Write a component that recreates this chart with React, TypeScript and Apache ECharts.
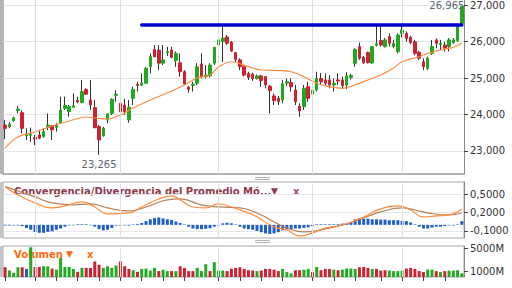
import React, { useEffect, useRef } from "react";
import * as echarts from "echarts";

// [open, close, low, high]
const candles: number[][] = [
  [23712, 23620, 23320, 23850], [23660, 23730, 23620, 23800], [23830, 23910, 23800, 23940], [24110, 24150, 24030, 24240],
  [24050, 23620, 23480, 24120], [23420, 23470, 23300, 23620], [23430, 23460, 23250, 23640], [23370, 23320, 23160, 23440],
  [23440, 23350, 23320, 23580], [23390, 23530, 23370, 23620], [23650, 23710, 23575, 24030], [23690, 23580, 23300, 23710],
  [23650, 23710, 23530, 23760], [23775, 24125, 23760, 24490], [24170, 24250, 24125, 24490], [24080, 24215, 23940, 24260],
  [24200, 24240, 24200, 24580], [24390, 24350, 24310, 24490], [24325, 24630, 24310, 24950], [24690, 24560, 24540, 24720],
  [24400, 24260, 24125, 24950], [24190, 23640, 23620, 24400], [23670, 23300, 22890, 23710], [23410, 23620, 23390, 23665],
  [23850, 24015, 23760, 24030], [24030, 24420, 23985, 24445], [24530, 24560, 24350, 24670], [24310, 24080, 23940, 24400],
  [24260, 24080, 23990, 24430], [23850, 24200, 23775, 24400], [24445, 24690, 24260, 24765], [24830, 24800, 24630, 24900],
  [24800, 24860, 24790, 25130], [24860, 25270, 24840, 25310], [25315, 25590, 25130, 25680], [25790, 25590, 25570, 25910],
  [25770, 25410, 25220, 25910], [25410, 25500, 25360, 25910], [25700, 25730, 25610, 25860], [25770, 25570, 25540, 25860],
  [25480, 25680, 25310, 25730], [25420, 25175, 25040, 25680], [25175, 24840, 24810, 25220], [24750, 24690, 24600, 24780],
  [24800, 24830, 24630, 24900], [24860, 25310, 24810, 25410], [25390, 25040, 24990, 25680], [25040, 25080, 24990, 25360],
  [25060, 25360, 25020, 25410], [25410, 25845, 25360, 25860], [25910, 26050, 25770, 26160], [26010, 26100, 25440, 26460],
  [26130, 25960, 25910, 26185], [25990, 25745, 25720, 26020], [25700, 25515, 25440, 25720], [25500, 25315, 25220, 25545],
  [25315, 25085, 25040, 25360], [25130, 25020, 24950, 25175], [25110, 24990, 24925, 25150], [24990, 25060, 24960, 25100],
  [25060, 24930, 24765, 25090], [25040, 24810, 24720, 25060], [24780, 24655, 24030, 24810], [24510, 24380, 24260, 24580],
  [24445, 24350, 24260, 24510], [24400, 24840, 24310, 24950], [24860, 24900, 24780, 24990], [24880, 24765, 24630, 24995],
  [24675, 24350, 24260, 24810], [24230, 24100, 23940, 24310], [24215, 24720, 24125, 24810], [24765, 24445, 24350, 24900],
  [24560, 24670, 24490, 24760], [24675, 24995, 24630, 25175], [24990, 24900, 24810, 25140], [24950, 24860, 24810, 25130],
  [24950, 24810, 24720, 25080], [24810, 24860, 24630, 24990], [24950, 24920, 24810, 25130], [24950, 24790, 24700, 25040],
  [24810, 25060, 24700, 25160], [25020, 25070, 24960, 25120], [25405, 25790, 25315, 25820], [25865, 25545, 25500, 25975],
  [25570, 25420, 25385, 25610], [25700, 25425, 25400, 25730], [25420, 25865, 25385, 25880], [25900, 25945, 25870, 26460],
  [26030, 25910, 25870, 26460], [25865, 26050, 25840, 26100], [26140, 25955, 25865, 26230], [25865, 25955, 25820, 26050],
  [25725, 26185, 25680, 26230], [26230, 26320, 26120, 26460], [26230, 26090, 26000, 26280], [26120, 25975, 25930, 26160],
  [26000, 25680, 25630, 26050], [25710, 25545, 25500, 25750], [25450, 25315, 25220, 25545], [25270, 25545, 25220, 25590],
  [25680, 25865, 25635, 26050], [26050, 25955, 25820, 26090], [25920, 25960, 25770, 26050], [25910, 25820, 25730, 26000],
  [25865, 26050, 25730, 26100], [25975, 26050, 25950, 26100], [26030, 26430, 26000, 26460], [26505, 26965, 26480, 26965],
];

// moving average, read at [candle index, value]
const maPoints: number[][] = [
  [0, 23080], [3, 23383], [7, 23520], [11, 23685], [15, 23822], [19, 23932], [21, 23905], [24, 23877],
  [27, 23987], [30, 24180], [34, 24400], [38, 24591], [42, 24811], [45, 25003], [48, 25086], [50, 25306],
  [53, 25450], [57, 25314], [60, 25223], [65, 25204], [67, 25176], [70, 25039], [73, 24858], [76, 24764],
  [79, 24720], [82, 24811], [85, 24948], [88, 25086], [91, 25278], [93, 25451], [97, 25588], [99, 25682],
  [102, 25773], [105, 25847], [107, 25957],
];

const macdPoints: number[][] = [
  [0, 0.624], [3, 0.489], [7, 0.358], [11, 0.276], [14, 0.309], [18, 0.374], [21, 0.292], [24, 0.178],
  [29, 0.194], [32, 0.292], [36, 0.423], [39, 0.472], [41, 0.407], [44, 0.292], [47, 0.276], [50, 0.341],
  [53, 0.292], [57, 0.194], [59, 0.129], [63, -0.034], [66, -0.083], [69, -0.181], [72, -0.132], [75, -0.051],
  [79, -0.002], [84, 0.129], [88, 0.26], [92, 0.309], [95, 0.243], [98, 0.129], [101, 0.145], [104, 0.162],
  [107, 0.26],
];

const signalPoints: number[][] = [
  [0, 0.624], [7, 0.456], [11, 0.358], [16, 0.325], [20, 0.341], [24, 0.276], [29, 0.227], [33, 0.292],
  [38, 0.407], [41, 0.423], [46, 0.325], [50, 0.292], [55, 0.276], [59, 0.194], [63, 0.047], [66, -0.051],
  [70, -0.116], [74, -0.083], [79, -0.002], [84, 0.113], [88, 0.211], [93, 0.276], [96, 0.243], [99, 0.194],
  [104, 0.162], [107, 0.194],
];

const histogram: number[] = [
  -0.01, -0.01, -0.01, -0.01, -0.02, -0.05, -0.08, -0.115, -0.13, -0.13, -0.115, -0.105, -0.08, -0.06, -0.03, -0.01,
  -0.008, 0.01, 0.01, 0.01, -0.008, -0.03, -0.07, -0.09, -0.08, -0.05, -0.01, -0.01, -0.01, -0.01, 0.008, 0.012,
  0.03, 0.06, 0.09, 0.11, 0.12, 0.105, 0.09, 0.08, 0.055, 0.03, 0.008, -0.03, -0.06, -0.07, -0.07, -0.065,
  -0.055, -0.03, -0.008, 0.025, 0.035, 0.025, 0.008, -0.03, -0.06, -0.07, -0.08, -0.1, -0.12, -0.14, -0.15, -0.14,
  -0.12, -0.09, -0.07, -0.07, -0.06, -0.06, -0.05, -0.04, -0.02, 0.01, 0.01, 0.01, 0.01, 0.01, 0.01, 0.02,
  0.03, 0.04, 0.09, 0.11, 0.1, 0.1, 0.09, 0.09, 0.085, 0.085, 0.075, 0.075, 0.075, 0.065, 0.06, 0.04,
  0.008, -0.03, -0.06, -0.06, -0.045, -0.03, -0.03, -0.02, -0.01, -0.01, 0.008, 0.06,
];

// volume in millions
const volumes: number[] = [
  1710, 1130, 750, 1710, 1710, 1420, 5230, 1770, 1770, 1890, 1890, 1480, 1300, 3330, 1770, 1770,
  1420, 900, 1600, 1600, 1600, 2730, 2150, 1600, 1890, 1600, 2030, 2730, 1890, 1420, 1190, 900,
  1420, 1480, 1130, 1600, 1040, 1300, 1040, 1040, 1040, 1890, 1600, 1040, 1040, 1600, 1040, 2260,
  1040, 2610, 1130, 1130, 1040, 1480, 1600, 1710, 1420, 1190, 1130, 1040, 1130, 1420, 1420, 1300,
  1040, 1420, 870, 640, 1190, 1190, 1300, 1420, 870, 1770, 1190, 1420, 1420, 1300, 1190, 1300,
  1480, 1480, 1420, 1710, 1770, 1600, 1420, 1420, 1130, 1190, 1130, 1040, 1040, 1130, 1480, 1600,
  1420, 1040, 870, 1300, 1300, 1040, 870, 1040, 1130, 1130, 1190, 640,
];
// 1 = up, -1 = down, 0 = unchanged
const volumeDir: number[] = [
  -1, 1, 1, 1, -1, 0, 1, -1, -1, 1, 1, -1, 1, 1, 1, 1, 1, -1, 1, -1, -1, -1, -1, 1, 1, 1, 1, -1, -1, -1,
  1, -1, 1, 1, 1, 1, -1, 1, 1, -1, 1, -1, -1, -1, -1, 1, 1, 1, -1, 1, 1, 1, -1, -1, -1, -1, -1, -1, -1,
  1, -1, -1, -1, -1, -1, 1, 1, 1, -1, -1, 1, 1, -1, 1, -1, -1, -1, 1, -1, 1, 1, 1, 1, -1, -1, -1, 1, -1,
  -1, -1, 1, 1, 1, 1, -1, -1, -1, -1, -1, 1, 1, -1, 1, -1, 1, 1, 1, 1,
];

const priceTicks = [23000, 24000, 25000, 26000, 27000];
const macdTicks = [-0.1, 0.2, 0.5];
const volumeTicks = [1000, 5000];
const monthStarts = [7, 27, 50, 72, 93];
const weekTicks = [0, 7, 12, 17, 22, 27, 32, 37, 42, 50, 55, 60, 65, 72, 77, 82, 88, 93, 98, 103];
const resistanceLevel = 26470;
const resistanceStart = 32;
const highMark = { index: 107, value: 26965, text: "26,965" };
const lowMark = { index: 22, value: 22890, text: "23,265" };

const categories = candles.map((_, i) => String(i));
const FONT = "DejaVu Sans";

export default function App() {
  const ref = useRef<HTMLDivElement>(null);
  useEffect(() => {
    document.body.style.margin = "0";
    const chart = echarts.init(ref.current!, null, { renderer: "svg" });
    const monthLines = (color: string) => ({
      silent: true,
      symbol: ["none", "none"],
      label: { show: false },
      lineStyle: { color, width: 1, type: "solid" },
      data: monthStarts.map((i) => ({ xAxis: String(i) })),
    });
    const xBase = (gridIndex: number) => ({
      type: "category",
      gridIndex,
      data: categories,
      boundaryGap: true,
      axisLabel: { show: false },
      axisTick: { show: false },
      splitLine: { show: false },
      axisLine: { show: false },
    });
    const yLabel = { color: "#333", fontSize: 10, fontFamily: FONT, margin: 6 };
    const option: any = {
      animation: false,
      backgroundColor: "#fff",
      grid: [
        { left: 3, right: 48, top: 0, height: 174 },
        { left: 3, right: 48, top: 182, height: 56, show: true, borderColor: "#a6a6a6", borderWidth: 1 },
        { left: 3, right: 48, top: 246, height: 31, show: true, borderColor: "#a6a6a6", borderWidth: 1 },
      ],
      xAxis: [
        { ...xBase(0), axisLine: { show: true, lineStyle: { color: "#999", width: 1.5 } } },
        xBase(1),
        {
          ...xBase(2),
          axisTick: {
            show: true,
            alignWithLabel: true,
            length: 4,
            lineStyle: { color: "#444" },
            interval: (i: number) => weekTicks.includes(i),
          },
          axisLabel: { show: true, formatter: () => "", interval: (i: number) => weekTicks.includes(i) },
        },
      ],
      yAxis: [
        {
          type: "value", gridIndex: 0, position: "right", min: 22366, max: 27146,
          axisLine: { show: true, lineStyle: { color: "#888" } },
          axisTick: { show: true, length: 4, customValues: priceTicks, lineStyle: { color: "#444" } },
          axisLabel: { ...yLabel, customValues: priceTicks, formatter: (v: number) => v.toLocaleString("en-US") },
          splitLine: { show: true, lineStyle: { color: "#e3e3e3" } },
        },
        {
          type: "value", gridIndex: 1, position: "right", min: -0.215, max: 0.7,
          axisLine: { show: true, lineStyle: { color: "#888" } },
          axisTick: { show: true, length: 4, customValues: macdTicks, lineStyle: { color: "#444" } },
          axisLabel: { ...yLabel, customValues: macdTicks, formatter: (v: number) => v.toFixed(4).replace(".", ",") },
          splitLine: { show: true, lineStyle: { color: "#e6e6e6" } },
        },
        {
          type: "value", gridIndex: 2, position: "right", min: 0, max: 5456,
          axisLine: { show: true, lineStyle: { color: "#888" } },
          axisTick: { show: true, length: 4, customValues: volumeTicks, lineStyle: { color: "#444" } },
          axisLabel: { ...yLabel, customValues: volumeTicks, formatter: (v: number) => `${v}M` },
          splitLine: { show: false },
        },
      ],
      series: [
        {
          type: "candlestick", name: "wicks", xAxisIndex: 0, yAxisIndex: 0,
          data: candles, barWidth: 1,
          itemStyle: { color: "#333", color0: "#333", borderColor: "#333", borderColor0: "#333", borderWidth: 1 },
          markLine: monthLines("#dddddd"),
        },
        {
          type: "candlestick", name: "bodies", xAxisIndex: 0, yAxisIndex: 0,
          data: candles.map(([o, c]) => [o, c, Math.min(o, c), Math.max(o, c)]),
          barWidth: 3,
          itemStyle: { color: "#20a820", color0: "#cc2233", borderColor: "#20a820", borderColor0: "#cc2233", borderWidth: 1 },
          markLine: {
            silent: true, symbol: ["none", "none"], label: { show: false },
            lineStyle: { color: "#0000cc", width: 3.5, type: "solid", cap: "round" },
            data: [[
              { coord: [String(resistanceStart), resistanceLevel] },
              { coord: [String(candles.length - 1), resistanceLevel] },
            ]],
          },
          markPoint: {
            silent: true, symbol: "circle", symbolSize: 1, itemStyle: { color: "rgba(0,0,0,0)" },
            label: { show: true, formatter: "{b}", color: "#5b6670", fontSize: 10, fontFamily: FONT },
            data: [
              { name: highMark.text, coord: [String(highMark.index), highMark.value], label: { offset: [-15, -1] } },
              { name: lowMark.text, coord: [String(lowMark.index), lowMark.value], label: { offset: [0, 10] } },
            ],
          },
        },
        {
          type: "line", name: "MA", xAxisIndex: 0, yAxisIndex: 0, data: maPoints, smooth: 0.4,
          showSymbol: false, lineStyle: { color: "#ff8a3d", width: 1.2 }, z: 3,
        },
        {
          type: "bar", name: "hist", xAxisIndex: 1, yAxisIndex: 1, data: histogram, barWidth: 3,
          itemStyle: { color: "#1f5fc4" },
          markLine: monthLines("#e0e0e0"),
        },
        {
          type: "line", name: "signal", xAxisIndex: 1, yAxisIndex: 1, data: signalPoints, smooth: 0.5,
          showSymbol: false, lineStyle: { color: "#b98058", width: 1.2 },
        },
        {
          type: "line", name: "macd", xAxisIndex: 1, yAxisIndex: 1, data: macdPoints, smooth: 0.5,
          showSymbol: false, lineStyle: { color: "#ff8a3d", width: 1.2 },
        },
        {
          type: "bar", name: "volume", xAxisIndex: 2, yAxisIndex: 2, barWidth: 3,
          data: volumes.map((v, i) => ({
            value: v,
            itemStyle: { color: volumeDir[i] > 0 ? "#22aa22" : volumeDir[i] < 0 ? "#cc2233" : "#1f5fc4" },
          })),
          markLine: monthLines("#e0e0e0"),
        },
      ],
      graphic: [
        { type: "rect", shape: { x: 0, y: 0, width: 4, height: 174 }, style: { fill: "#b5b5b5" }, silent: true },
        { type: "rect", shape: { x: 0, y: 182, width: 3, height: 56 }, style: { fill: "#c4c4c4" }, silent: true },
        { type: "rect", shape: { x: 0, y: 246, width: 3, height: 31 }, style: { fill: "#c4c4c4" }, silent: true },
        { type: "rect", shape: { x: 255, y: 177, width: 15, height: 1 }, style: { fill: "#b0b0b0" }, silent: true },
        { type: "rect", shape: { x: 255, y: 179, width: 15, height: 1 }, style: { fill: "#b0b0b0" }, silent: true },
        { type: "rect", shape: { x: 255, y: 240, width: 15, height: 1 }, style: { fill: "#b0b0b0" }, silent: true },
        { type: "rect", shape: { x: 255, y: 242, width: 15, height: 1 }, style: { fill: "#b0b0b0" }, silent: true },
        {
          type: "text", x: 14, y: 191, silent: true,
          style: { text: "Convergencia/Divergencia del Promedio Mó...", fill: "#8c3b4b", font: `bold 10px "${FONT}"`, verticalAlign: "middle" },
        },
        { type: "text", x: 271, y: 191, silent: true, style: { text: "▼", fill: "#8c3b4b", font: `9px "${FONT}"`, verticalAlign: "middle" } },
        { type: "text", x: 293, y: 191, silent: true, style: { text: "x", fill: "#a05060", font: `bold 10px "${FONT}"`, verticalAlign: "middle" } },
        {
          type: "text", x: 14, y: 254, silent: true,
          style: { text: "Volumen", fill: "#ff6a10", font: `bold 10px "${FONT}"`, verticalAlign: "middle" },
        },
        { type: "text", x: 66, y: 254, silent: true, style: { text: "▼", fill: "#ff6a10", font: `9px "${FONT}"`, verticalAlign: "middle" } },
        { type: "text", x: 87, y: 254, silent: true, style: { text: "x", fill: "#ff6a10", font: `bold 10px "${FONT}"`, verticalAlign: "middle" } },
      ],
    };
    chart.setOption(option);
    return () => chart.dispose();
  }, []);
  return <div ref={ref} style={{ width: 512, height: 288 }} />;
}
